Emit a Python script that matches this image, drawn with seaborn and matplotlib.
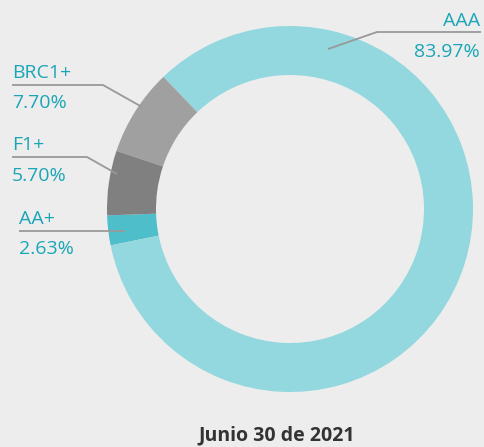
import matplotlib
matplotlib.use("Agg")
import matplotlib.pyplot as plt
import seaborn as sns

# Data: rating distribution (order follows the ring, starting at 9 o'clock)
ratings = ["AA+", "AAA", "BRC1+", "F1+"]
shares = [2.63, 83.97, 7.70, 5.70]
colours = ["#4fbecb", "#93d7df", "#a0a0a0", "#808080"]
title = "Junio 30 de 2021"

# Label layout in pixel coords (x, baseline y of name, baseline y of %, align)
label_pos = {
    "AAA":   (480, 26, 57, "right"),
    "BRC1+": (12, 78, 108, "left"),
    "F1+":   (12, 150, 181, "left"),
    "AA+":   (19, 224, 254, "left"),
}
# leader lines: (point on ring, elbow, end of underline)
leaders = {
    "AAA":   [(328, 49), (377, 32), (481, 32)],
    "BRC1+": [(142, 107), (103, 85), (12, 85)],
    "F1+":   [(117, 174), (87, 157), (12, 157)],
    "AA+":   [(125, 231), (125, 231), (19, 231)],
}

sns.set_theme(style="white")
plt.rcParams["font.family"] = ["Open Sans", "DejaVu Sans"]

bg = "#ededed"
teal = "#1aa6b7"

fig = plt.figure(figsize=(4.84, 4.47), dpi=100, facecolor=bg)
ax = fig.add_axes([0, 0, 1, 1])
ax.set_facecolor(bg)

centre = (290, 209)
radius = 183
ax.pie(
    shares,
    colors=colours,
    startangle=178,
    counterclock=False,   # y axis is flipped below, so this reads anticlockwise
    center=centre,
    radius=radius,
    wedgeprops={"width": 49, "linewidth": 0},
)

ax.set_xlim(0, 484)
ax.set_ylim(447, 0)
ax.set_aspect("auto")
ax.axis("off")

for name, value in zip(ratings, shares):
    x, y1, y2, ha = label_pos[name]
    ax.text(x, y1, name, ha=ha, va="baseline", fontsize=14, color=teal)
    ax.text(x, y2, f"{value:.2f}%", ha=ha, va="baseline", fontsize=14, color=teal)
    pts = leaders[name]
    ax.plot([p[0] for p in pts], [p[1] for p in pts], color="#999999", lw=1.3,
            solid_capstyle="butt")

ax.text(277, 440, title, ha="center", va="baseline", fontsize=14,
        fontweight="bold", color="#333333")

fig.savefig("out.png", dpi=100, facecolor=bg)
